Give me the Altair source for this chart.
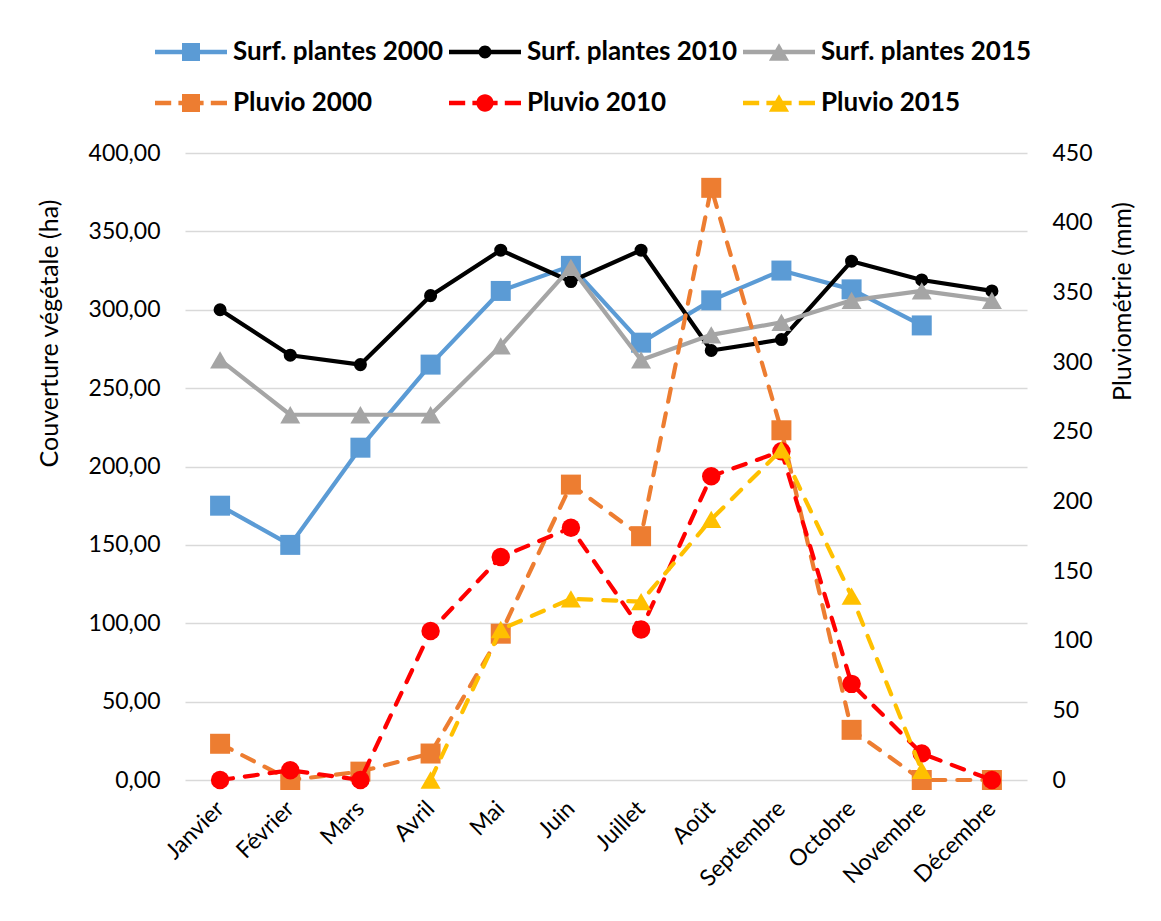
import altair as alt
import pandas as pd

# Mois de l'année (axe des abscisses)
mois = ["Janvier", "Février", "Mars", "Avril", "Mai", "Juin", "Juillet",
        "Août", "Septembre", "Octobre", "Novembre", "Décembre"]

# Couverture végétale (ha) - axe de gauche
surf_2000 = [175, 150, 212, 265, 312, 328, 279, 306, 325, 313, 290, None]
surf_2010 = [300, 271, 265, 309, 338, 318, 338, 274, 281, 331, 319, 312]
surf_2015 = [268, 233, 233, 233, 277, 327, 268, 284, 292, 306, 312, 306]

# Pluviométrie (mm) - axe de droite
pluvio_2000 = [26, 0, 6, 19, 105, 212, 175, 425, 251, 36, 0, 0]
pluvio_2010 = [0, 7, 0, 107, 160, 181, 108, 218, 236, 69, 19, 0]
pluvio_2015 = [None, None, None, 0, 108, 130, 128, 187, 237, 132, 7, None]

series_gauche = {
    "Surf. plantes 2000": surf_2000,
    "Surf. plantes 2010": surf_2010,
    "Surf. plantes 2015": surf_2015,
}
series_droite = {
    "Pluvio 2000": pluvio_2000,
    "Pluvio 2010": pluvio_2010,
    "Pluvio 2015": pluvio_2015,
}
noms = list(series_gauche) + list(series_droite)
couleurs = ["#5B9BD5", "#000000", "#A5A5A5", "#ED7D31", "#FF0000", "#FFC000"]

rows = []
for nom, vals in {**series_gauche, **series_droite}.items():
    for m, v in zip(mois, vals):
        if v is not None:
            rows.append({"mois": m, "serie": nom, "valeur": v})
data = pd.DataFrame(rows)

FONT = "Lato"

# Symboles de légende : trait (plein ou tireté) + marqueur
def trait_plein():
    return "M-1,-0.06H1V0.06H-1Z"

def trait_tirete():
    return ("M-1,-0.06H-0.55V0.06H-1Z "
            "M-0.35,-0.06H0.35V0.06H-0.35Z "
            "M0.55,-0.06H1V0.06H0.55Z")

def carre(r):
    return f"M{-r},{-r}H{r}V{r}H{-r}Z"

def rond(r):
    return f"M{-r},0A{r},{r} 0 1,1 {r},0A{r},{r} 0 1,1 {-r},0Z"

def triangle(w, h):
    return f"M0,{-h}L{w},{h}L{-w},{h}Z"

symboles = [
    trait_plein() + " " + carre(0.25),
    trait_plein() + " " + rond(0.18),
    trait_plein() + " " + triangle(0.28, 0.24),
    trait_tirete() + " " + carre(0.25),
    trait_tirete() + " " + rond(0.24),
    trait_tirete() + " " + triangle(0.28, 0.24),
]

x_enc = alt.X("mois:N", sort=mois, title=None,
              axis=alt.Axis(labelAngle=-45, labelAlign="right", labelBaseline="top",
                            labelPadding=17, labelOffset=-8, labelFontSize=23, labelFont=FONT,
                            labelColor="#000000", domain=False, ticks=False, grid=False))

y_gauche = alt.Y(
    "valeur:Q",
    scale=alt.Scale(domain=[0, 400], nice=False, zero=True),
    axis=alt.Axis(orient="left", values=list(range(0, 401, 50)),
                  labelExpr="replace(format(datum.value, '.2f'), '.', ',')",
                  grid=True, gridColor="#D9D9D9", gridWidth=1.5,
                  domain=False, ticks=False, labelPadding=25,
                  labelFont=FONT, labelFontSize=23, labelColor="#000000",
                  title="Couverture végétale (ha)", titleFont=FONT, titleFontSize=25,
                  titleFontWeight="normal", titleColor="#000000", titleAngle=270,
                  titleX=-136, titleY=180, titleAlign="center", titleBaseline="middle"),
)

y_droite = alt.Y(
    "valeur:Q",
    scale=alt.Scale(domain=[0, 450], nice=False, zero=True),
    axis=alt.Axis(orient="right", values=list(range(0, 451, 50)), format="d",
                  grid=False, domain=False, ticks=False, labelPadding=25,
                  labelFont=FONT, labelFontSize=23, labelColor="#000000",
                  title="Pluviométrie (mm)", titleFont=FONT, titleFontSize=25,
                  titleFontWeight="normal", titleColor="#000000", titleAngle=270,
                  titleX=95, titleY=148, titleAlign="center", titleBaseline="middle"),
)

styles = {
    "Surf. plantes 2000": dict(dash=None, shape="square", size=400),
    "Surf. plantes 2010": dict(dash=None, shape="circle", size=170),
    "Surf. plantes 2015": dict(dash=None, shape="triangle-up", size=400),
    "Pluvio 2000": dict(dash=[13, 12], shape="square", size=400),
    "Pluvio 2010": dict(dash=[13, 12], shape="circle", size=340),
    "Pluvio 2015": dict(dash=[13, 12], shape="triangle-up", size=400),
}


def couches(nom, couleur, y_enc):
    st = styles[nom]
    base = alt.Chart(data).transform_filter(alt.datum.serie == nom)
    line_kw = dict(color=couleur, strokeWidth=4.2, strokeJoin="round")
    if st["dash"]:
        line_kw.update(strokeDash=st["dash"], strokeCap="round")
    ligne = base.mark_line(**line_kw).encode(x=x_enc, y=y_enc)
    points = base.mark_point(filled=True, shape=st["shape"], size=st["size"],
                             color=couleur, opacity=1, strokeWidth=0).encode(x=x_enc, y=y_enc)
    return [ligne, points]


legende = alt.Legend(
    title=None, orient="none", legendX=-30, legendY=-116, columns=3,
    direction="horizontal", symbolSize=5184, clipHeight=30, rowPadding=21,
    columnPadding=5, labelOffset=6, labelFont=FONT, labelFontSize=26,
    labelFontWeight="bold", labelColor="#000000", labelLimit=400,
    symbolStrokeWidth=0, symbolOpacity=1,
)

couche_legende = alt.Chart(data).mark_point(filled=True, opacity=0).encode(
    x=x_enc,
    y=y_gauche,
    color=alt.Color("serie:N", scale=alt.Scale(domain=noms, range=couleurs), legend=legende),
    shape=alt.Shape("serie:N", scale=alt.Scale(domain=noms, range=symboles), legend=legende),
)

gauche_layers = [couche_legende]
for nom, c in zip(noms[:3], couleurs[:3]):
    gauche_layers += couches(nom, c, y_gauche)
droite_layers = []
for nom, c in zip(noms[3:], couleurs[3:]):
    droite_layers += couches(nom, c, y_droite)

gauche = alt.layer(*gauche_layers)
droite = alt.layer(*droite_layers)

chart = (
    alt.layer(gauche, droite)
    .resolve_scale(y="independent")
    .properties(
        width=842, height=627,
        padding={"left": 185, "top": 153, "right": 134, "bottom": 141},
        autosize=alt.AutoSizeParams(type="none"),
        background="#FFFFFF",
    )
    .configure_view(stroke=None)
)

chart.save("out.html", embed_options={"renderer": "svg", "actions": False})
